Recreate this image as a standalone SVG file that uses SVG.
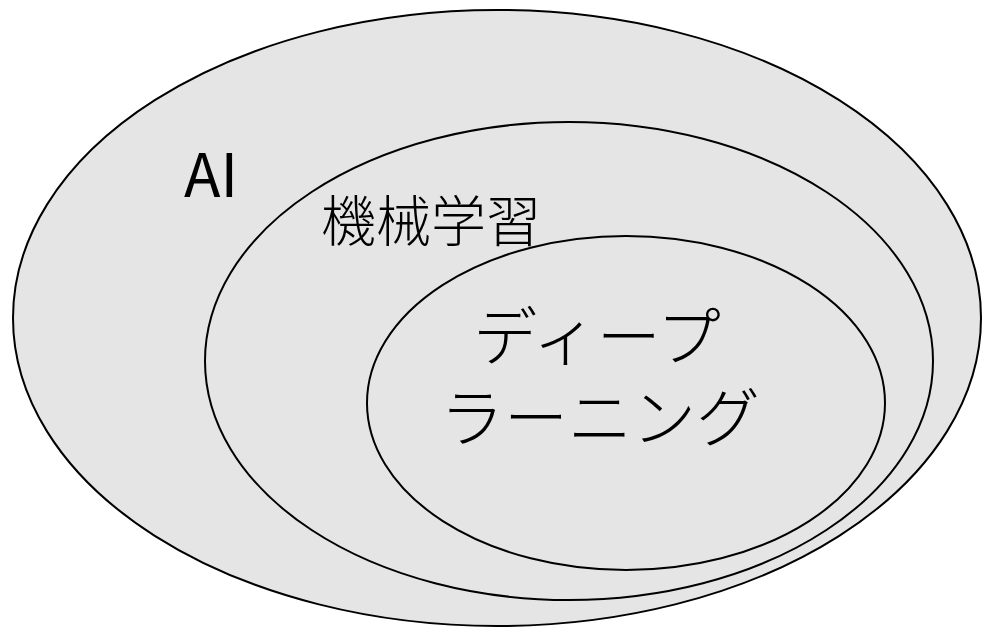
<svg xmlns="http://www.w3.org/2000/svg" width="982" height="631" viewBox="0 0 982 631">
<style>
.e{fill:#e5e5e5;stroke:#000;stroke-width:2}
.t{font-family:"Noto Sans CJK JP","Noto Sans",sans-serif;fill:#000}
.j{font-weight:300}
</style>
<rect width="982" height="631" fill="#fff"/>
<g id="ai">
<ellipse class="e" cx="497" cy="318" rx="484" ry="308"/>
<text class="t" x="184" y="197" font-size="60">AI</text>
</g>
<g id="ml">
<ellipse class="e" cx="569" cy="361" rx="364" ry="239"/>
<text class="t j" x="321" y="241" font-size="55">機械学習</text>
</g>
<g id="dl">
<ellipse class="e" cx="626" cy="403" rx="259" ry="167"/>
<text class="t j" font-size="64" text-anchor="middle"><tspan x="597" y="360">ディープ</tspan><tspan x="600" y="441">ラーニング</tspan></text>
</g>
<g id="connectors"/>
</svg>
